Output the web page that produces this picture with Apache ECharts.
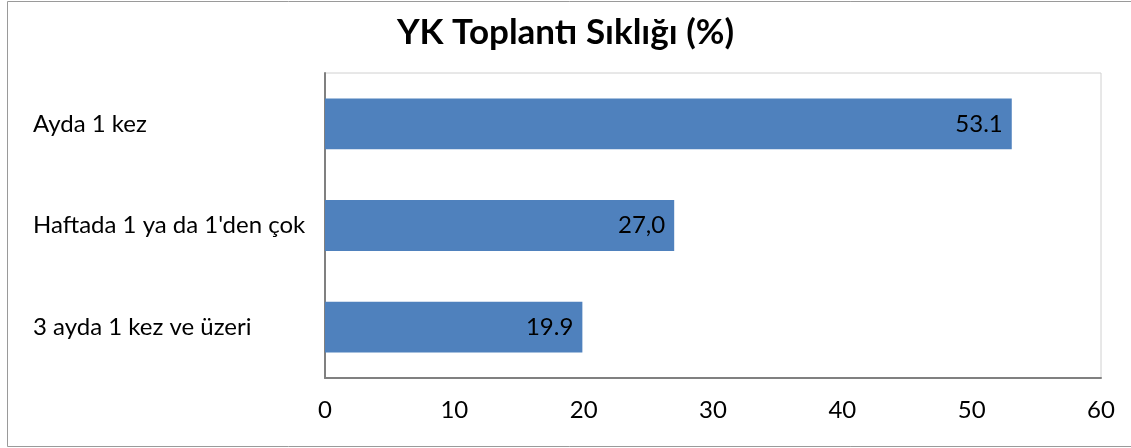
<!DOCTYPE html>
<html>
<head>
<meta charset="utf-8">
<script src="https://cdn.jsdelivr.net/npm/echarts@6/dist/echarts.min.js"></script>
<style>
  html, body { margin: 0; padding: 0; background: #fff; }
  #chart { width: 1131px; height: 448px; }
</style>
</head>
<body>
<div id="chart"></div>
<script>
var dom = document.getElementById('chart');
var myChart = echarts.init(dom, null, { renderer: 'canvas' });

// bottom to top, as the category axis draws them
const categories = ['3 ayda 1 kez ve üzeri', "Haftada 1 ya da 1'den çok", 'Ayda 1 kez'];
const values = [19.9, 27.0, 53.1];
// labels as printed in the original (one uses a comma)
const valueLabels = ['19.9', '27,0', '53.1'];
const xTicks = [0, 60, 10];

const font = 'Lato, "Open Sans", sans-serif';

var option = {
  backgroundColor: '#FFFFFF',
  textStyle: { fontFamily: font },
  title: {
    text: 'YK Toplantı Sıklığı (%)',
    left: 'center',
    top: 10,
    textStyle: { fontSize: 35, fontWeight: 'bold', color: '#000', fontFamily: font }
  },
  graphic: [
    {
      type: 'rect',
      shape: { x: 7.5, y: 1.5, width: 1140, height: 445 },
      style: { fill: 'none', stroke: '#9a9a9a', lineWidth: 1 },
      silent: true,
      z: -1
    }
  ],
  grid: {
    left: 325,
    right: 30,
    top: 73,
    bottom: 70,
    show: true,
    borderColor: '#d0d0d0',
    borderWidth: 1
  },
  xAxis: {
    type: 'value',
    min: xTicks[0],
    max: xTicks[1],
    interval: xTicks[2],
    splitLine: { show: false },
    axisLine: { show: true, lineStyle: { color: '#808080', width: 2 } },
    axisTick: { show: false },
    axisLabel: { fontSize: 24, color: '#000', margin: 20, fontFamily: font }
  },
  yAxis: {
    type: 'category',
    data: categories,
    axisLine: { show: true, lineStyle: { color: '#808080', width: 2 } },
    axisTick: { show: false },
    axisLabel: { fontSize: 24, color: '#000', align: 'left', margin: 292, fontFamily: font }
  },
  series: [
    {
      type: 'bar',
      data: values,
      barCategoryGap: '50%',
      itemStyle: { color: '#4F81BD' },
      label: {
        show: true,
        position: 'insideRight',
        distance: 9,
        fontSize: 24,
        color: '#000',
        fontFamily: font,
        formatter: function (p) { return valueLabels[p.dataIndex]; }
      }
    }
  ]
};

myChart.setOption(option);
window.addEventListener('resize', myChart.resize);
</script>
</body>
</html>
